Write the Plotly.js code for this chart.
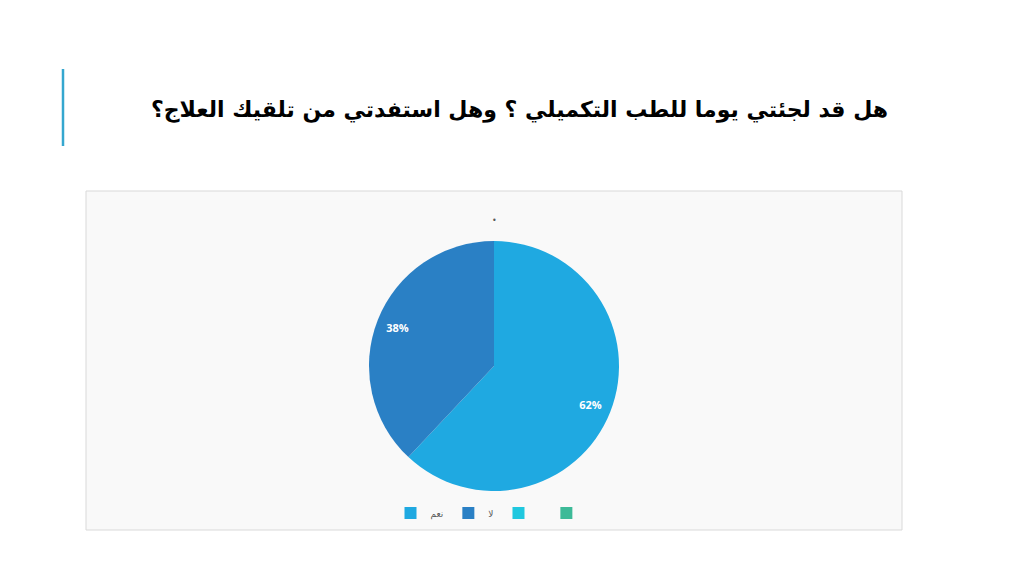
<!DOCTYPE html>
<html>
<head>
<meta charset="utf-8">
<script src="https://cdn.plot.ly/plotly-3.0.1.min.js"></script>
<style>
  html, body { margin: 0; padding: 0; background: #fff; }
  #chart { width: 1024px; height: 576px; }
</style>
</head>
<body>
<div id="chart"></div>
<script>
const titleText = 'هل قد لجئتي يوما للطب التكميلي ؟ وهل استفدتي من تلقيك العلاج؟';
const labels = ['نعم', 'لا', ' ', '  '];
const values = [62, 38, 0, 0];
const colors = ['#1fa9e1', '#2a80c5', '#20c8df', '#3dba98'];

const W = 1024, H = 576;
const px = (x) => x / W;
const py = (y) => 1 - y / H;
const pieDomain = { x: [px(369), px(619)], y: [py(491), py(241)] };

// slices + legend
const pieTrace = {
    type: 'pie',
    labels: labels,
    values: values,
    sort: false,
    direction: 'clockwise',
    rotation: 0,
    marker: { colors: colors, line: { width: 0 } },
    textinfo: 'none',
    hoverinfo: 'label+percent',
    domain: pieDomain,
};

// transparent ring on top, only to put the percent labels near the rim
const labelTrace = {
    type: 'pie',
    labels: labels,
    values: values,
    sort: false,
    direction: 'clockwise',
    rotation: 0,
    hole: 0.66,
    showlegend: false,
    marker: { colors: labels.map(() => 'rgba(0,0,0,0)'), line: { width: 0 } },
    textinfo: 'percent',
    texttemplate: '%{percent:.0%}',
    textposition: 'inside',
    insidetextorientation: 'horizontal',
    textfont: { family: 'Open Sans, sans-serif', size: 11, color: '#ffffff', weight: 'bold' },
    domain: pieDomain,
};

const layout = {
    width: W,
    height: H,
    margin: { l: 0, r: 0, t: 0, b: 0 },
    paper_bgcolor: '#ffffff',
    showlegend: true,
    legend: {
        orientation: 'h',
        x: px(494),
        xanchor: 'center',
        y: py(513),
        yanchor: 'middle',
        font: { family: 'DejaVu Sans, sans-serif', size: 9, color: '#595959' },
        itemwidth: 30,
        bgcolor: 'rgba(0,0,0,0)',
    },
    shapes: [
        {
            type: 'rect', xref: 'paper', yref: 'paper',
            x0: px(86), x1: px(902), y0: py(530), y1: py(191),
            fillcolor: '#f9f9f9', line: { color: '#d9d9d9', width: 1 },
            layer: 'below',
        },
        {
            type: 'line', xref: 'paper', yref: 'paper',
            x0: px(63), x1: px(63), y0: py(146), y1: py(69),
            line: { color: '#35a7cf', width: 2.5 },
        },
    ],
    annotations: [
        {
            text: '<b>' + titleText + '</b>',
            xref: 'paper', yref: 'paper',
            x: px(890), y: py(110),
            xanchor: 'right', yanchor: 'middle',
            showarrow: false,
            font: { family: 'DejaVu Sans, sans-serif', size: 22, color: '#000000' },
        },
        {
            text: '•',
            xref: 'paper', yref: 'paper',
            x: px(494), y: py(220),
            xanchor: 'center', yanchor: 'middle',
            showarrow: false,
            font: { family: 'DejaVu Sans, sans-serif', size: 8, color: '#595959' },
        },
    ],
};

Plotly.newPlot('chart', [pieTrace, labelTrace], layout, { displayModeBar: false, staticPlot: true });
</script>
</body>
</html>
